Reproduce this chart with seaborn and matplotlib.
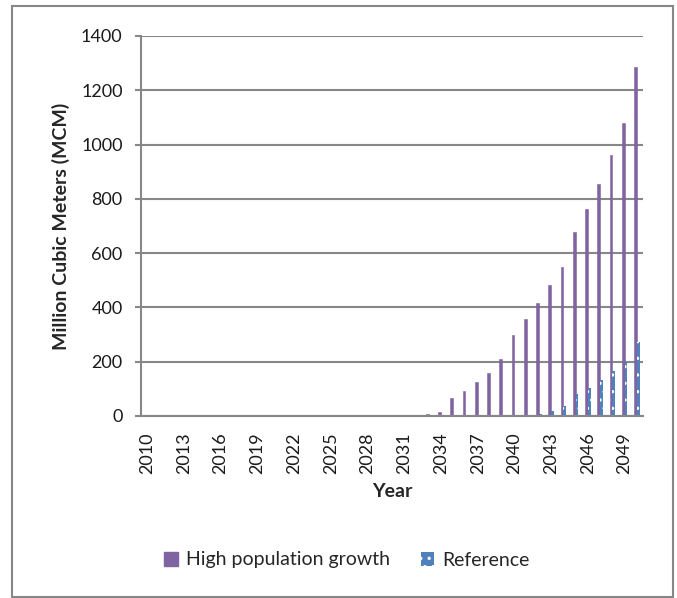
import numpy as np
import pandas as pd
import matplotlib
matplotlib.use("Agg")
import matplotlib.pyplot as plt
from matplotlib.patches import Rectangle, Patch
import seaborn as sns

years = list(range(2010, 2051))
high_growth = [0] * 22 + [1, 6, 15, 66, 93, 127, 158, 210, 300, 357, 416,
                          481, 548, 677, 761, 856, 961, 1080, 1285]
reference = [0] * 32 + [8, 20, 38, 81, 103, 131, 165, 198, 272]
series_names = ["High population growth", "Reference"]
colors = ["#8064A2", "#4F81BD"]
y_ticks = [0, 200, 400, 600, 800, 1000, 1200, 1400]

df = pd.DataFrame({
    "Year": [str(y) for y in years] * 2,
    "Value": high_growth + reference,
    "Series": [series_names[0]] * len(years) + [series_names[1]] * len(years),
})

sns.set_theme(style="white")
plt.rcParams["font.family"] = ["Lato", "DejaVu Sans"]
plt.rcParams["hatch.linewidth"] = 1.2

fig = plt.figure(figsize=(6.77, 5.98), dpi=100)
ax = fig.add_axes([141 / 677, 1 - 416 / 598, 502 / 677, 380 / 598])

sns.barplot(data=df, x="Year", y="Value", hue="Series", palette=colors,
            width=0.46, ax=ax, legend=False, saturation=1)

for bar in ax.containers[0]:
    bar.set_edgecolor(colors[0])
    bar.set_linewidth(0.4)
    bar.set_zorder(2)
# white dotted fill on the Reference bars
for bar in ax.containers[1]:
    bar.set_hatch("..")
    bar.set_edgecolor("white")
    bar.set_linewidth(0)
    bar.set_zorder(2)

tick_fs = 13
label_fs = 14
ax.set_ylim(0, 1400)
ax.set_yticks(y_ticks)
ax.set_yticklabels([str(t) for t in y_ticks], fontsize=tick_fs, color="#1a1a1a")
ax.set_xlim(-0.5, len(years) - 0.5)
ax.set_xticks(range(0, len(years), 3))
ax.set_xticklabels([str(years[i]) for i in range(0, len(years), 3)],
                   rotation=90, fontsize=tick_fs, color="#1a1a1a")
ax.yaxis.grid(True, color="#878787", linewidth=1.5, zorder=0)
ax.set_axisbelow(True)
for side in ["top", "right"]:
    ax.spines[side].set_visible(False)
for side in ["left", "bottom"]:
    ax.spines[side].set_color("#878787")
    ax.spines[side].set_linewidth(1.5)
ax.tick_params(axis="y", which="both", left=True, length=4.3, width=1.5,
               color="#878787", pad=9)
ax.tick_params(axis="x", bottom=False, pad=6)

ax.set_xlabel("Year", fontsize=label_fs, fontweight="bold", labelpad=6)
ax.set_ylabel("Million Cubic Meters (MCM)", fontsize=label_fs, fontweight="bold",
              labelpad=8)

handles = [Patch(facecolor=colors[0], edgecolor=colors[0]),
           Patch(facecolor=colors[1], edgecolor="white", hatch="..",
                 linewidth=0)]
fig.legend(handles, series_names, loc="center", bbox_to_anchor=(347 / 677, 1 - 560 / 598),
           ncol=2, frameon=False, fontsize=label_fs, handlelength=0.7,
           handleheight=0.7, handletextpad=0.4, columnspacing=1.6)

fig.patches.append(Rectangle((12 / 677, 1 - 597 / 598), 661 / 677, 591 / 598,
                             transform=fig.transFigure, fill=False,
                             edgecolor="#878787", linewidth=1.5))

fig.savefig("out.png", dpi=100)
